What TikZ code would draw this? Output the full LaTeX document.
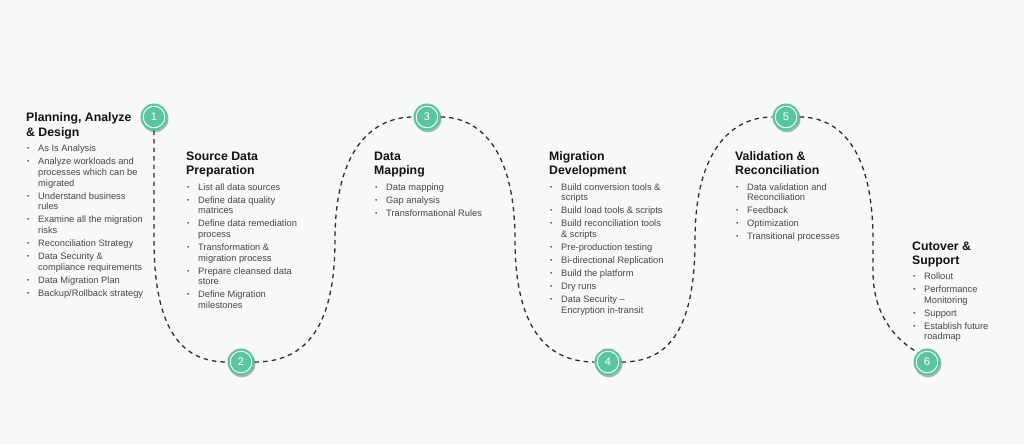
\documentclass[tikz,border=0pt]{standalone}
\usepackage{fontspec}
\setmainfont{Liberation Sans}
\usetikzlibrary{shadows}
\definecolor{bgc}{HTML}{F7F8FA}
\definecolor{grn}{HTML}{5BC4A2}
\definecolor{ttlc}{HTML}{121212}
\definecolor{txtc}{HTML}{474747}
\definecolor{dashc}{HTML}{2E2E2E}
\newcommand\bitem[1]{\par\noindent\hangindent=12pt\hangafter=1\makebox[12pt][l]{\hspace{0.9pt}\raisebox{0.9pt}{\fontsize{6.5}{6.5}\selectfont •}}#1}
\newcommand\ttlbox[1]{\parbox[t]{200pt}{\fontsize{12.3}{14.3}\selectfont\bfseries\raggedright #1}}
\newcommand\lstbox[1]{\parbox[t]{200pt}{\fontsize{9.3}{10.7}\selectfont\raggedright\setlength{\parskip}{2.3pt}#1}}
\tikzset{
  ttl/.style={anchor=base west, inner sep=0pt, text=ttlc},
  lst/.style={anchor=base west, inner sep=0pt, text=txtc},
  num/.style={circle, fill=grn, minimum size=27pt, inner sep=0pt, text=white,
    font=\fontsize{11}{11}\selectfont,
    drop shadow={shadow xshift=1pt, shadow yshift=-1.8pt, fill=black, opacity=0.28},
    path picture={\draw[white, line width=0.9pt] (path picture bounding box.center) circle (10.8pt);}},
  flow/.style={draw=dashc, line width=1.3pt, dash pattern=on 4.5pt off 4pt}
}
\begin{document}
\begin{tikzpicture}[x=1pt,y=-1pt]
\fill[bgc] (0,0) rectangle (1024,444);
\useasboundingbox (0,0) rectangle (1024,444);

% numbered circles
\node[num] (n1) at (154,117) {1};
\node[num] (n2) at (241,362) {2};
\node[num] (n3) at (427,117) {3};
\node[num] (n4) at (608,362) {4};
\node[num] (n5) at (786,117) {5};
\node[num] (n6) at (927,362) {6};

% dashed wave
\draw[flow] (n1.south) -- (154,240) .. controls (154,335) and (185,362) .. (n2.west);
\draw[flow] (n2.east) .. controls (300,362) and (335,335) .. (335,240)
  .. controls (335,150) and (372,117) .. (n3.west);
\draw[flow] (n3.east) .. controls (480,117) and (515,150) .. (515,240)
  .. controls (515,335) and (552,362) .. (n4.west);
\draw[flow] (n4.east) .. controls (665,362) and (695,335) .. (695,240)
  .. controls (695,150) and (732,117) .. (n5.west);
\draw[flow] (n5.east) .. controls (840,117) and (873,150) .. (873,240)
  -- (873,272) .. controls (873,312) and (893,338) .. (n6.north west);

% block 1
\node[ttl] (t1) at (26,121.7) {\ttlbox{Planning, Analyze\\\& Design}};
\node[lst] (l1) at (26,151.7) {\lstbox{%
\bitem{As Is Analysis}
\bitem{Analyze workloads and\newline processes which can be\newline migrated}
\bitem{Understand business\newline rules}
\bitem{Examine all the migration\newline risks}
\bitem{Reconciliation Strategy}
\bitem{Data Security \&\newline compliance requirements}
\bitem{Data Migration Plan}
\bitem{Backup/Rollback strategy}}};

% block 2
\node[ttl] (t2) at (186,160) {\ttlbox{Source Data\\Preparation}};
\node[lst] (l2) at (186,190) {\lstbox{%
\bitem{List all data sources}
\bitem{Define data quality\newline matrices}
\bitem{Define data remediation\newline process}
\bitem{Transformation \&\newline migration process}
\bitem{Prepare cleansed data\newline store}
\bitem{Define Migration\newline milestones}}};

% block 3
\node[ttl] (t3) at (374,160) {\ttlbox{Data\\Mapping}};
\node[lst] (l3) at (374,190) {\lstbox{%
\bitem{Data mapping}
\bitem{Gap analysis}
\bitem{Transformational Rules}}};

% block 4
\node[ttl] (t4) at (549,160) {\ttlbox{Migration\\Development}};
\node[lst] (l4) at (549,190) {\lstbox{%
\bitem{Build conversion tools \&\newline scripts}
\bitem{Build load tools \& scripts}
\bitem{Build reconciliation tools\newline \& scripts}
\bitem{Pre-production testing}
\bitem{Bi-directional Replication}
\bitem{Build the platform}
\bitem{Dry runs}
\bitem{Data Security –\newline Encryption in-transit}}};

% block 5
\node[ttl] (t5) at (735,160) {\ttlbox{Validation \&\\Reconciliation}};
\node[lst] (l5) at (735,190) {\lstbox{%
\bitem{Data validation and\newline Reconciliation}
\bitem{Feedback}
\bitem{Optimization}
\bitem{Transitional processes}}};

% block 6
\node[ttl] (t6) at (912,250.5) {\ttlbox{Cutover \&\\Support}};
\node[lst] (l6) at (912,279.5) {\lstbox{%
\bitem{Rollout}
\bitem{Performance\newline Monitoring}
\bitem{Support}
\bitem{Establish future\newline roadmap}}};
\end{tikzpicture}
\end{document}
